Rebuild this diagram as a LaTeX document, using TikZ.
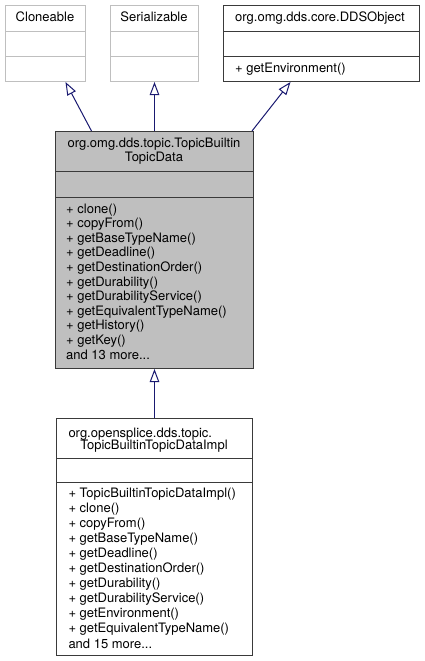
\documentclass[tikz,border=0pt]{standalone}
\usepackage{fontspec}
\setmainfont{TeX Gyre Heros}
\usetikzlibrary{arrows.meta, positioning}
\definecolor{edgeblue}{HTML}{191970}
\definecolor{lightframe}{HTML}{BFBFBF}
\definecolor{darkframe}{HTML}{3A3A3A}
\definecolor{basefill}{HTML}{BFBFBF}
\newcommand\moredots{...}

\begin{document}
\begin{tikzpicture}[x=1pt, y=-1pt,
  classbox/.style={draw=darkframe, line width=1pt, inner sep=0pt, anchor=north west},
  ifacebox/.style={classbox, draw=lightframe},
  umltext/.style={inner sep=0pt, font=\fontsize{13}{14.6}\selectfont},
  member/.style={umltext, anchor=base west},
  inherit/.style={draw=edgeblue, line width=1pt, -{Triangle[open, length=13pt, width=9.5pt]}}]
\useasboundingbox (0,0) rectangle (424,661);

% parents
\node[ifacebox, minimum width=80pt, minimum height=76pt] (cloneable) at (5,5) {};
\node[ifacebox, minimum width=88pt, minimum height=76pt] (serializable) at (110,5) {};
\node[classbox, minimum width=196pt, minimum height=76pt] (ddsobject) at (223,5) {};
\foreach \b in {cloneable, serializable}
  \foreach \d in {26.5, 52}
    \draw[lightframe, line width=1pt] ([yshift=-\d pt]\b.north west) -- ([yshift=-\d pt]\b.north east);
\foreach \d in {26.5, 52}
  \draw[darkframe, line width=1pt] ([yshift=-\d pt]ddsobject.north west) -- ([yshift=-\d pt]ddsobject.north east);
\node[umltext, anchor=base] (cloneable-name) at (45,22) {Cloneable};
\node[umltext, anchor=base] (serializable-name) at (154,22) {Serializable};
\node[umltext, anchor=base] (ddsobject-name) at (320,22) {org.omg.dds.core.DDSObject};
\node[member] (ddsobject-op0) at (235,73) {+ getEnvironment()};

% TopicBuiltinTopicData
\node[classbox, fill=basefill, minimum width=198pt, minimum height=237pt] (topicdata) at (55,131) {};
\foreach \d in {40, 66}
  \draw[darkframe, line width=1pt] ([yshift=-\d pt]topicdata.north west) -- ([yshift=-\d pt]topicdata.north east);
\node[umltext, anchor=base] (topicdata-name1) at (154,147) {org.omg.dds.topic.TopicBuiltin};
\node[umltext, anchor=base] (topicdata-name2) at (154,161.5) {TopicData};
\foreach \m [count=\i from 0] in {+ clone(), + copyFrom(), + getBaseTypeName(), + getDeadline(),
    + getDestinationOrder(), + getDurability(), + getDurabilityService(),
    + getEquivalentTypeName(), + getHistory(), + getKey(), and 13 more\moredots}
  \node[member] (topicdata-op\i) at (66,{213+14.6*\i}) {\m};

% TopicBuiltinTopicDataImpl
\node[classbox, minimum width=196pt, minimum height=237pt] (topicdataimpl) at (56,418) {};
\foreach \d in {40.3, 64.7}
  \draw[darkframe, line width=1pt] ([yshift=-\d pt]topicdataimpl.north west) -- ([yshift=-\d pt]topicdataimpl.north east);
\node[umltext, anchor=base west] (topicdataimpl-name1) at (68.3,437) {org.opensplice.dds.topic.};
\node[umltext, anchor=base] (topicdataimpl-name2) at (154,449.5) {TopicBuiltinTopicDataImpl};
\foreach \m [count=\i from 0] in {+ TopicBuiltinTopicDataImpl(), + clone(), + copyFrom(),
    + getBaseTypeName(), + getDeadline(), + getDestinationOrder(), + getDurability(),
    + getDurabilityService(), + getEnvironment(), + getEquivalentTypeName(), and 15 more\moredots}
  \node[member] (topicdataimpl-op\i) at (68.3,{497.3+15.07*\i}) {\m};

% inheritance
\draw[inherit] ([xshift=-63pt]topicdata.north) -- ([xshift=20pt]cloneable.south);
\draw[inherit] (topicdata.north) -- (serializable.south);
\draw[inherit] ([xshift=97.5pt]topicdata.north) -- ([xshift=-31pt]ddsobject.south);
\draw[inherit] (topicdataimpl.north) -- (topicdata.south);
\end{tikzpicture}
\end{document}
